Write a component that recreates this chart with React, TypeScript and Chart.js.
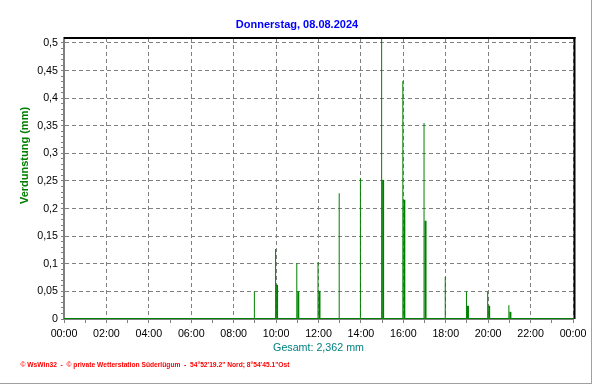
import React, { useEffect, useRef } from 'react';
import { Chart, registerables } from 'chart.js';

Chart.register(...registerables);

const TITLE = 'Donnerstag, 08.08.2024';
const Y_LABEL = 'Verdunstung (mm)';
const TOTAL_LABEL = 'Gesamt: 2,362 mm';
const FOOTER = '\u00a9 WsWin32  -  \u00a9 private Wetterstation S\u00fcderl\u00fcgum  -  54\u00b052\'19.2" Nord; 8\u00b054\'45.1"Ost';

// hourly evaporation (thin bars)
const HOURS_MAIN = [9, 10, 11, 12, 13, 14, 15, 16, 17, 18, 19, 20, 21];
const VALUES_MAIN = [0.05, 0.127, 0.101, 0.103, 0.228, 0.255, 0.51, 0.431, 0.355, 0.076, 0.05, 0.05, 0.025];

// partial values (thicker bars)
const HOURS_PART = [10, 11, 12, 15, 16, 17, 19, 20, 21];
const VALUES_PART = [0.062, 0.05, 0.051, 0.252, 0.216, 0.178, 0.024, 0.024, 0.013];

// zero baseline
const BASE_X = [0, 24];
const BASE_Y = [0, 0];

const X_TICKS = [0, 1, 2, 3, 4, 5, 6, 7, 8, 9, 10, 11, 12, 13, 14, 15, 16, 17, 18, 19, 20, 21, 22, 23, 24];
const X_TICK_LABELS = ['00:00', '', '02:00', '', '04:00', '', '06:00', '', '08:00', '', '10:00', '', '12:00', '', '14:00', '', '16:00', '', '18:00', '', '20:00', '', '22:00', '', '00:00'];
const X_GRID_EVERY = 2;

const Y_MAJOR = [0, 0.05, 0.1, 0.15, 0.2, 0.25, 0.3, 0.35, 0.4, 0.45, 0.5];
const Y_TICK_LABELS = ['0', '0,05', '0,1', '0,15', '0,2', '0,25', '0,3', '0,35', '0,4', '0,45', '0,5'];
const Y_MINOR_DIV = 5;
const Y_MAX = 0.509;

const GREEN = '#008000';
const GRID = '#808080';
const FONT = '"Liberation Sans", Arial, sans-serif';

const decorPlugin = {
  id: 'decor',
  afterDraw(chart: any) {
    const ctx = chart.ctx;
    const a = chart.chartArea;
    ctx.save();
    // plot frame top & right (black)
    ctx.fillStyle = '#000000';
    ctx.fillRect(a.left, a.top - 1, a.right - a.left + 2.5, 2);
    ctx.fillRect(a.right + 0.5, a.top - 1, 2, a.bottom - a.top + 1);

    // title
    ctx.fillStyle = '#0000FF';
    ctx.font = `bold 11px ${FONT}`;
    ctx.textAlign = 'center';
    ctx.textBaseline = 'alphabetic';
    ctx.fillText(TITLE, 297, 28);

    // total
    ctx.fillStyle = '#008080';
    ctx.font = `10.7px ${FONT}`;
    ctx.fillText(TOTAL_LABEL, (a.left + a.right) / 2, 351);

    // footer
    ctx.fillStyle = '#FF0000';
    ctx.font = `bold 7px ${FONT}`;
    ctx.textAlign = 'left';
    ctx.fillText(FOOTER, 20.5, 366.5, 269);

    // y-axis title
    ctx.save();
    ctx.translate(25, 155.5);
    ctx.rotate(-Math.PI / 2);
    ctx.fillStyle = GREEN;
    ctx.font = `bold 11px ${FONT}`;
    ctx.textAlign = 'center';
    ctx.textBaseline = 'middle';
    ctx.fillText(Y_LABEL, 0, 0);
    ctx.restore();

    // picture border (right, bottom)
    ctx.fillStyle = '#A0A0A0';
    ctx.fillRect(591, 0, 1, 384);
    ctx.fillRect(0, 383, 592, 1);
    ctx.restore();
  },
};

export default function App() {
  const ref = useRef<HTMLCanvasElement | null>(null);

  useEffect(() => {
    if (!ref.current) return;
    const chart = new Chart(ref.current, {
      type: 'bar',
      data: {
        datasets: [
          {
            type: 'bar',
            data: HOURS_MAIN.map((h, i) => ({ x: h, y: VALUES_MAIN[i] })),
            backgroundColor: GREEN,
            borderWidth: 0,
            barThickness: 1,
            inflateAmount: 0,
          } as any,
          {
            type: 'bar',
            data: HOURS_PART.map((h, i) => ({ x: h, y: VALUES_PART[i] })),
            backgroundColor: GREEN,
            borderWidth: 0,
            barThickness: 2,
            inflateAmount: 0,
          } as any,
          {
            type: 'line',
            data: BASE_X.map((x, i) => ({ x, y: BASE_Y[i] })),
            borderColor: GREEN,
            borderWidth: 2,
            pointRadius: 0,
            fill: false,
          } as any,
        ],
      },
      options: {
        animation: false,
        responsive: false,
        maintainAspectRatio: false,
        devicePixelRatio: 1,
        layout: { padding: { top: 38, right: 19, left: 0, bottom: 0 } },
        plugins: {
          legend: { display: false },
          tooltip: { enabled: false },
          title: { display: false },
        },
        scales: {
          x: {
            type: 'linear',
            min: 0,
            max: 24,
            offset: false,
            afterBuildTicks: (s: any) => {
              s.ticks = X_TICKS.map((v) => ({ value: v }));
            },
            afterFit: (s: any) => {
              s.height = 65;
            },
            ticks: {
              autoSkip: false,
              maxRotation: 0,
              minRotation: 0,
              padding: 5,
              color: '#000000',
              font: { family: FONT, size: 10.7 },
              callback: (_v: any, i: number) => X_TICK_LABELS[i],
            },
            grid: {
              offset: false,
              color: (c: any) => (c.tick && c.tick.value % X_GRID_EVERY === 0 ? GRID : 'rgba(0,0,0,0)'),
              tickColor: GRID,
              tickLength: 4,
              lineWidth: 1,
            },
            border: { color: GRID, width: 2, dash: [4, 3] },
          },
          y: {
            type: 'linear',
            min: 0,
            max: Y_MAX,
            afterBuildTicks: (s: any) => {
              const t: any[] = [];
              for (let i = 0; i < Y_MAJOR.length; i++) {
                t.push({ value: Y_MAJOR[i], major: true, label: Y_TICK_LABELS[i] });
                if (i < Y_MAJOR.length - 1) {
                  for (let k = 1; k < Y_MINOR_DIV; k++) {
                    t.push({ value: Y_MAJOR[i] + ((Y_MAJOR[i + 1] - Y_MAJOR[i]) * k) / Y_MINOR_DIV });
                  }
                }
              }
              s.ticks = t;
            },
            afterFit: (s: any) => {
              s.width = 64;
            },
            ticks: {
              autoSkip: false,
              padding: 3,
              color: '#000000',
              font: { family: FONT, size: 10.7 },
              callback: (v: any) => {
                const idx = Y_MAJOR.indexOf(v);
                return idx >= 0 ? Y_TICK_LABELS[idx] : '';
              },
            },
            grid: {
              color: (c: any) => (c.tick && Y_MAJOR.indexOf(c.tick.value) >= 0 ? GRID : 'rgba(0,0,0,0)'),
              tickColor: GRID,
              tickLength: 3,
              lineWidth: 1,
            },
            border: { color: GRID, width: 2, dash: [4, 3] },
          },
        },
      } as any,
      plugins: [decorPlugin],
    });
    return () => chart.destroy();
  }, []);

  return (
    <div style={{ position: 'absolute', left: 0, top: 0, width: 592, height: 384, background: '#ffffff' }}>
      <canvas ref={ref} width={592} height={384} style={{ width: 592, height: 384, display: 'block' }} />
    </div>
  );
}
